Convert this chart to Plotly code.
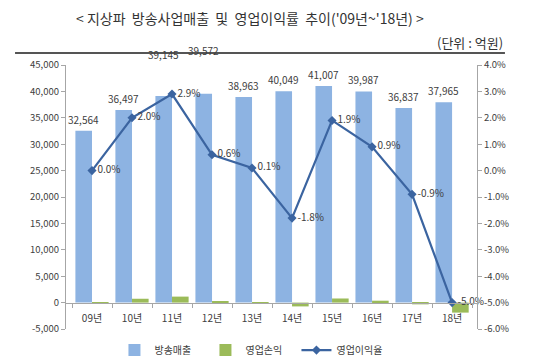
import plotly.graph_objects as go

categories = ["09년", "10년", "11년", "12년", "13년", "14년", "15년", "16년", "17년", "18년"]
sales = [32564, 36497, 39145, 39572, 38963, 40049, 41007, 39987, 36837, 37965]
op_profit = [10, 730, 1135, 237, 39, -721, 779, 360, -332, -1898]
op_margin = [0.0, 2.0, 2.9, 0.6, 0.1, -1.8, 1.9, 0.9, -0.9, -5.0]

left_ticks = [-5000, 0, 5000, 10000, 15000, 20000, 25000, 30000, 35000, 40000, 45000]
left_ticktext = ["-5,000", "0", "5,000", "10,000", "15,000", "20,000", "25,000",
                 "30,000", "35,000", "40,000", "45,000"]
right_ticks = [-6, -5, -4, -3, -2, -1, 0, 1, 2, 3, 4]
right_ticktext = ["-6.0%", "-5.0%", "-4.0%", "-3.0%", "-2.0%", "-1.0%", "0.0%",
                  "1.0%", "2.0%", "3.0%", "4.0%"]

FONT = "Noto Sans CJK KR"
TXT = "#404040"
BLUE = "#8db3e2"
GREEN = "#9bbb59"
LINE = "#3b64a0"

fig = go.Figure()
fig.add_trace(go.Bar(x=categories, y=sales, name="방송매출", marker_color=BLUE,
                     marker_line_width=0))
fig.add_trace(go.Bar(x=categories, y=op_profit, name="영업손익", marker_color=GREEN,
                     marker_line_width=0))
fig.add_trace(go.Scatter(
    x=categories, y=op_margin, name="영업이익율", yaxis="y2",
    mode="lines+markers+text",
    line=dict(color=LINE, width=2.2),
    marker=dict(symbol="diamond", size=7, color=LINE),
    text=[f"{v:.1f}%" for v in op_margin],
    textposition="middle right",
    textfont=dict(family=FONT, size=10, color=TXT),
    cliponaxis=False,
))

# sales value labels above the blue bars
extra_shift = {2: 30, 3: 32}
for i, (c, v) in enumerate(zip(categories, sales)):
    fig.add_annotation(x=c, y=v, xref="x", yref="y", text=f"{v:,}",
                       showarrow=False, xshift=-8.5, yanchor="bottom",
                       yshift=2 + extra_shift.get(i, 0),
                       font=dict(family=FONT, size=10, color=TXT))

# header
fig.add_annotation(x=0.448, y=1.178, xref="paper", yref="paper",
                   text="< 지상파  방송사업매출  및  영업이익률  추이('09년~'18년) >",
                   showarrow=False, xanchor="center", yanchor="middle",
                   font=dict(family=FONT, size=14, color="#333333"))
fig.add_annotation(x=1.068, y=1.087, xref="paper", yref="paper",
                   text="(단위 : 억원)", showarrow=False, xanchor="right",
                   yanchor="middle", font=dict(family=FONT, size=13, color="#333333"))
fig.add_shape(type="line", xref="paper", yref="paper", x0=-0.124, x1=1.068,
              y0=1.0455, y1=1.0455, line=dict(color="#555555", width=2))

# the page body has an 8px default margin, so the figure is sized/offset for it
fig.update_layout(
    width=529, height=352,
    margin=dict(l=58, r=60, t=57, b=31, autoexpand=False),
    paper_bgcolor="white", plot_bgcolor="white",
    barmode="group", bargap=0.17, bargroupgap=0,
    font=dict(family=FONT, size=10, color=TXT),
    showlegend=True,
    legend=dict(orientation="h", x=0.45, xanchor="center", y=-0.08,
                yanchor="middle", font=dict(family=FONT, size=10, color=TXT),
                itemwidth=30, entrywidth=46, entrywidthmode="pixels",
                tracegroupgap=0),
    xaxis=dict(anchor="free", position=0.1, showline=True, linecolor="#a6a6a6",
               linewidth=1, ticks="outside", tickson="boundaries", ticklen=4,
               tickcolor="#a6a6a6", showgrid=False, zeroline=False,
               automargin=False, ticklabelstandoff=6,
               tickfont=dict(family=FONT, size=10, color=TXT)),
    yaxis=dict(range=[-5000, 45000], tickvals=left_ticks, ticktext=left_ticktext,
               showline=True, linecolor="#a6a6a6", linewidth=1, ticks="outside",
               ticklen=4, tickcolor="#a6a6a6", showgrid=False, zeroline=False,
               automargin=False,
               tickfont=dict(family=FONT, size=9.5, color=TXT)),
    yaxis2=dict(range=[-6, 4], tickvals=right_ticks, ticktext=right_ticktext,
                overlaying="y", side="right", showline=True, linecolor="#a6a6a6",
                linewidth=1, ticks="outside", ticklen=4, tickcolor="#a6a6a6",
                showgrid=False, zeroline=False, automargin=False,
                tickfont=dict(family=FONT, size=9.5, color=TXT)),
)

fig.write_html("out.html")
